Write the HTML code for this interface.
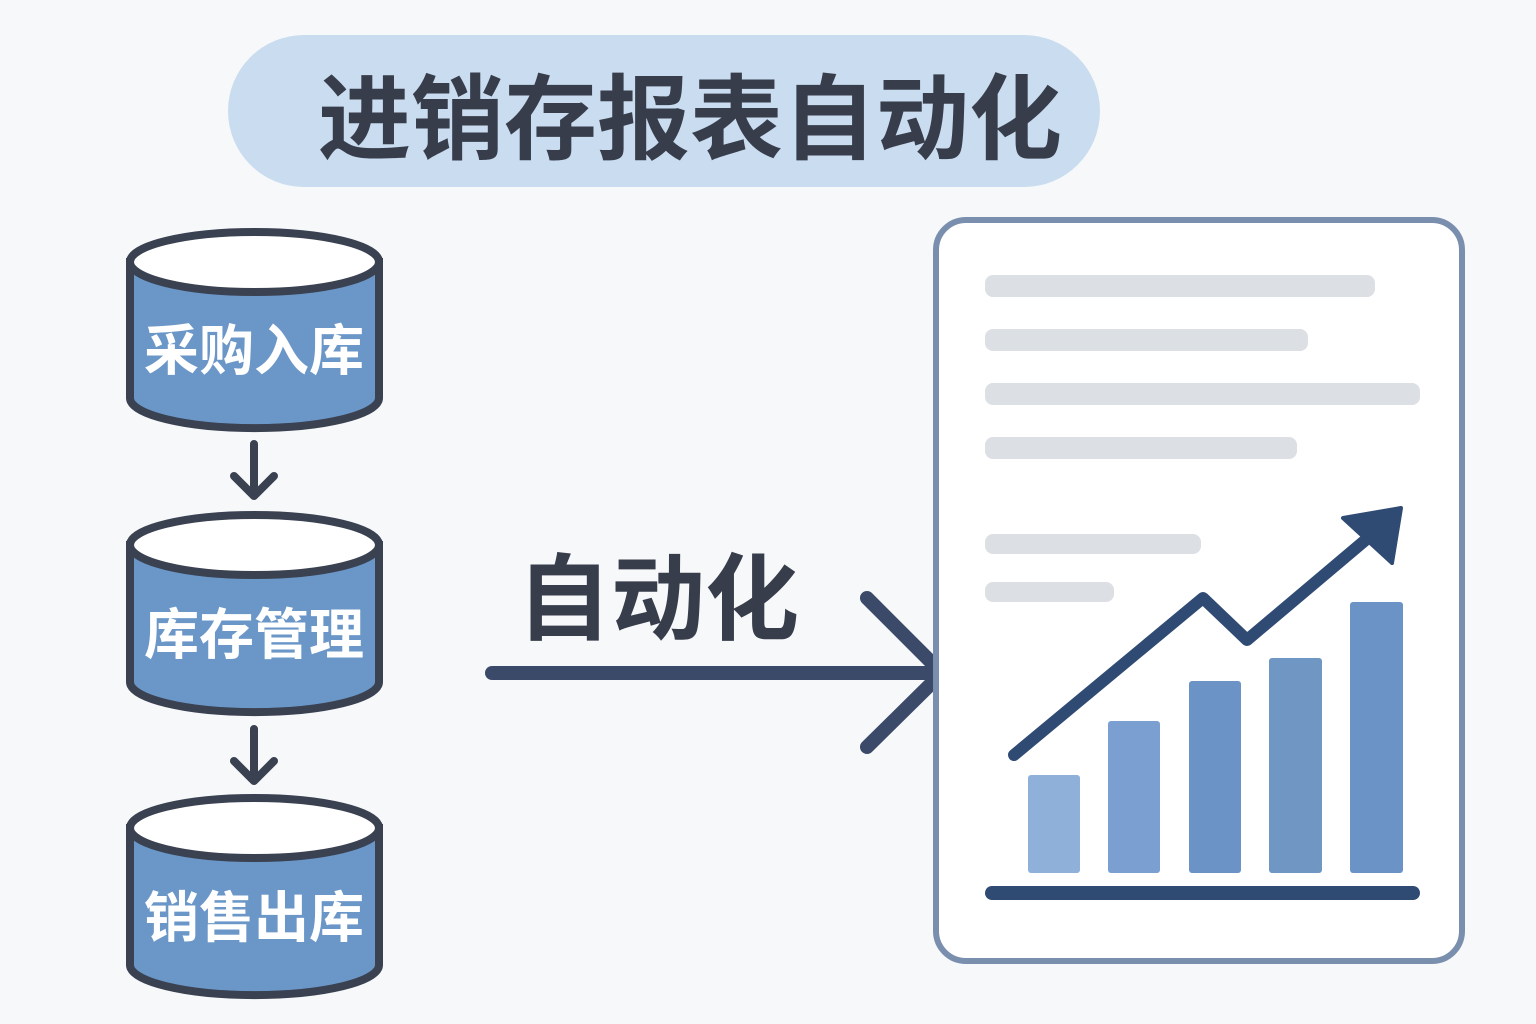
<!DOCTYPE html>
<html><head><meta charset="utf-8"><style>
body{margin:0;background:#f7f8fa;}
svg{display:block}
</style></head><body>
<svg width="1536" height="1024" viewBox="0 0 1536 1024" xmlns="http://www.w3.org/2000/svg">
<rect width="1536" height="1024" fill="#f7f8fa"/>
<rect x="228" y="35" width="872" height="152" rx="76" fill="#c9dcf0"/>
<text x="690" y="152" text-anchor="middle" font-family="'Liberation Sans','Noto Sans CJK SC',sans-serif" font-weight="bold" font-size="93" fill="#373d4a">进销存报表自动化</text>

<g stroke="#3a4150" stroke-width="8" fill="#6b97c8">
 <g>
  <path d="M130,262 L130,398 A124,30 0 0 0 379,398 L379,262 Z"/>
  <ellipse cx="254.5" cy="262" rx="124.5" ry="30" fill="#fff"/>
 </g>
 <g>
  <path d="M130,545 L130,682 A124,30 0 0 0 379,682 L379,545 Z"/>
  <ellipse cx="254.5" cy="545" rx="124.5" ry="30" fill="#fff"/>
 </g>
 <g>
  <path d="M130,828 L130,965 A124,30 0 0 0 379,965 L379,828 Z"/>
  <ellipse cx="254.5" cy="828" rx="124.5" ry="30" fill="#fff"/>
 </g>
</g>
<g font-family="'Liberation Sans','Noto Sans CJK SC',sans-serif" font-weight="bold" font-size="55" fill="#fff" text-anchor="middle">
 <text x="254" y="370">采购入库</text>
 <text x="254" y="654">库存管理</text>
 <text x="254" y="937">销售出库</text>
</g>
<g stroke="#3a4150" stroke-width="8" fill="none" stroke-linecap="round" stroke-linejoin="round">
 <path d="M254,444 L254,495 M234,476 L254,496 L274,476"/>
 <path d="M254,729 L254,780 M234,761 L254,781 L274,761"/>
</g>

<text x="658" y="632" text-anchor="middle" font-family="'Liberation Sans','Noto Sans CJK SC',sans-serif" font-weight="bold" font-size="94" fill="#373d4a">自动化</text>
<g stroke="#3a4a68" stroke-width="14" fill="none" stroke-linecap="round" stroke-linejoin="round">
 <path d="M492,673 L940,673"/>
 <path d="M867,598 L942,673 L867,747"/>
</g>

<rect x="936" y="220" width="526" height="741" rx="30" fill="#fff" stroke="#7a8fae" stroke-width="6"/>
<g fill="#dcdfe3">
 <rect x="985" y="275" width="390" height="22" rx="8"/>
 <rect x="985" y="329" width="323" height="22" rx="8"/>
 <rect x="985" y="383" width="435" height="22" rx="8"/>
 <rect x="985" y="437" width="312" height="22" rx="8"/>
 <rect x="985" y="534" width="216" height="20" rx="8"/>
 <rect x="985" y="582" width="129" height="20" rx="8"/>
</g>
<rect x="1028" y="775" width="52" height="98" rx="3" fill="#8fb0d8"/>
<rect x="1108" y="721" width="52" height="152" rx="3" fill="#7a9fd0"/>
<rect x="1189" y="681" width="52" height="192" rx="3" fill="#6b93c5"/>
<rect x="1269" y="658" width="53" height="215" rx="3" fill="#7096c4"/>
<rect x="1350" y="602" width="53" height="271" rx="3" fill="#6b93c5"/>
<line x1="992" y1="893" x2="1413" y2="893" stroke="#2f4a73" stroke-width="14" stroke-linecap="round"/>
<path d="M1014,755 L1203,598 L1247,640 L1375,532" stroke="#2f4a73" stroke-width="12" fill="none" stroke-linecap="round" stroke-linejoin="round"/>
<polygon points="1343,518 1401,508 1392,563" fill="#2f4a73" stroke="#2f4a73" stroke-width="4" stroke-linejoin="round"/>
</svg>
</body></html>
